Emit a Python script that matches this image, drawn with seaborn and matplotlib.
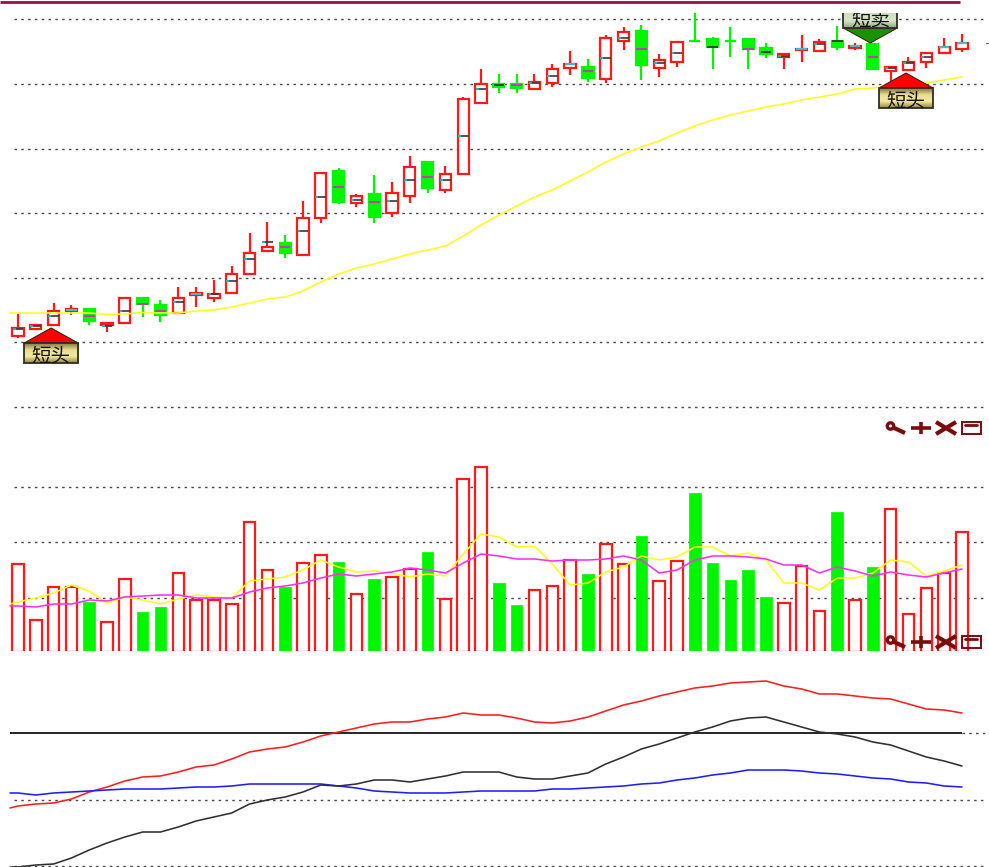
import numpy as np
import matplotlib
matplotlib.use("Agg")
import matplotlib.pyplot as plt
import seaborn as sns
from matplotlib.colors import LinearSegmentedColormap
from matplotlib.patches import Circle, Polygon, Rectangle

# candles, heights above the lowest gridline of the price panel
opens = [71, 78, 82, 96, 98, 82, 84, 109, 102, 94, 112, 109, 114, 133, 156, 164, 152, 189,
         236, 204, 213, 194, 211, 245, 217, 233, 304, 323, 323, 318, 324, 339, 340, 328, 366, 376,
         339, 345, 366.5, 368, 366.5, 368, 359, 350, 357, 356, 366, 359, 363, 336, 337, 345, 354, 358]
closes = [79, 82, 96, 98, 86, 84, 109, 103, 92, 109, 114, 113, 133, 154, 160, 154, 189, 234,
          205, 211, 190, 214, 240, 219, 233, 308, 323, 320, 319, 325, 338, 343, 329, 369, 375, 342,
          347, 365, 366, 360, 366, 358, 353, 353, 358, 365, 360, 361, 338, 340, 345, 354, 360, 364]
highs = [93, 82, 104, 102, 98, 84, 109, 109, 107, 120, 120, 127, 141, 174, 185, 172, 206, 234,
         239, 213, 232, 225, 251, 245, 241, 310, 338, 333, 333, 333, 343, 356, 348, 372, 380, 382,
         353, 366, 394, 370, 380, 368, 364, 353, 372, 368, 381, 364, 363, 340, 350, 354, 369, 373]
lows = [69, 78, 82, 92, 82, 75, 83, 90, 85, 94, 100, 105, 114, 133, 156, 149, 152, 184,
        203, 200, 184, 190, 204, 214, 214, 233, 303, 314, 314, 318, 320, 332, 325, 324, 357, 327,
        330, 340, 366, 338, 350, 338, 349, 338, 345, 355, 357, 357, 337, 324, 337, 339, 354, 355]
mids = [78, 81, 91, 97, 91, 81, 96, 103, 96, 105, 113, 113, 126, 148, 165, 160, 176, 210,
        220, 207, 205, 206, 227, 230, 227, 271, 318, 322, 322, 324, 331, 343, 336, 349, 369, 358,
        344, 354, 366, 360, 366, 358, 355, 351, 358, 363, 366, 361, 350, 339, 344, 350, 360, 364]

# first entry of every line is where it starts, left of candle 0
price_ma = [94, 94, 94, 94, 94, 94, 92.5, 93, 94.5, 94, 94, 96, 97, 100, 104, 108, 110, 116, 125,
            133, 139, 143, 148, 153, 157, 161, 171, 182, 192, 201, 210, 217, 226, 235, 245, 253, 260,
            266, 274, 281, 287, 292, 296, 300, 303, 307, 310, 313, 318, 319, 321, 322, 324, 327, 330]

volumes = [88, 32, 65, 65, 50, 30, 73, 40, 45, 79, 52, 52, 48, 130, 82, 65, 89, 97,
           90, 58, 73, 75, 83, 100, 53, 173, 185, 69, 47, 62, 66, 92, 78, 108, 88, 116,
           71, 91, 159, 89, 72, 82, 55, 49, 86, 41, 140, 52, 85, 143, 38, 64, 79, 120]
vol_ma_fast = [48, 50, 54, 59, 67, 61, 49, 55, 52, 48, 53, 57, 55, 54, 71, 73, 75, 82, 92,
               85, 80, 81, 79, 75, 78, 76, 98, 118, 115, 105, 106, 88, 67, 69, 80, 85, 96,
               92, 95, 105, 105, 96, 99, 92, 69, 69, 62, 74, 74, 79, 92, 90, 76, 81, 87]
vol_ma_slow = [46, 46, 45, 48, 48, 52, 51, 55, 56, 57, 57, 54, 54, 54, 60, 64, 66, 69, 74,
               78, 76, 78, 80, 84, 82, 79, 89, 98, 96, 93, 93, 91, 92, 92, 93, 96, 92,
               79, 82, 92, 96, 96, 95, 93, 87, 87, 79, 85, 81, 76, 80, 77, 75, 79, 83]

# oscillator lines, heights above the solid zero line
osc_red = [-75, -73, -71, -70, -66, -59, -54, -48, -44, -43, -39, -34, -32, -26, -19, -16, -14, -9, -3,
           1, 5, 9, 11, 11, 14, 16, 20, 18, 18, 15, 11, 10, 12, 16, 22, 28, 32, 37,
           41, 45, 47, 50, 51, 52, 47, 44, 39, 39, 37, 35, 34, 29, 24, 23, 20]
osc_blue = [-60, -60, -62, -60, -59, -58, -57, -56, -56, -56, -55, -54, -54, -53, -51, -51, -51, -51, -51,
            -53, -55, -58, -59, -60, -60, -60, -59, -58, -58, -58, -58, -56, -56, -55, -54, -53, -51, -50,
            -47, -45, -42, -40, -37, -37, -37, -38, -40, -41, -43, -45, -46, -49, -50, -53, -54]
osc_black = [-134, -134, -132, -131, -125, -117, -110, -104, -99, -99, -94, -88, -84, -80, -71, -67, -64, -59, -52,
             -53, -51, -47, -47, -49, -46, -43, -39, -39, -39, -44, -46, -46, -43, -40, -31, -24, -16, -11,
             -5, 1, 6, 12, 15, 16, 11, 6, 1, -1, -4, -9, -12, -18, -24, -28, -33]

price_grid = [0, 65, 129, 194, 258, 323, 388]
volume_grid = [54, 110, 165]
osc_grid = [-67, -133]

# mid tick colours that differ from the default of each candle
cyan_mids = [3, 10, 31, 44, 47, 52, 53]
black_green_mids = [27, 39, 42, 46]
no_mids = [38, 40]

# badges: label, candle
long_signals = [("短头", 2), ("短头", 50)]
short_signals = [("短卖", 48)]

W, H = 989, 867
RED = "#ff1a1a"
GREEN = "#00f500"
X0, DX = 18.0, 17.81
GRID = (0, (1.8, 3.1))


def makeAxes(top, bottom, ylo, yhi):
    ax = fig.add_axes([0, 1 - bottom / H, 1, (bottom - top) / H])
    ax.set_xlim(-X0 / DX, (W - X0) / DX)
    ax.set_ylim(ylo, yhi)
    return ax


def drawGrid(ax, levels):
    ax.hlines(levels, -0.22, 54.3, color="#484848", lw=1.0, linestyle=GRID, zorder=1)


def drawLine(ax, xs, ys, color, lw=1.15):
    sns.lineplot(x=xs, y=ys, color=color, lw=lw, ax=ax, estimator=None, legend=False, zorder=4)


def drawBadge(ax, label, i, y, up):
    # sizes in pixels, all panels here are 1 unit = 1 px vertically
    px = 1 / DX
    cx = i - 2.5 * px
    halfw, tri, box = 27 * px, 15, 20
    if up:
        apex, base, boxlo, boxhi = y - 3, y - 3 - tri, y - 3 - tri - box, y - 3 - tri
        tri_color = "#ff0000"
        cmap = LinearSegmentedColormap.from_list("gold", ["#8c7c44", "#e8dc90", "#f2ea9c", "#9c8c4c"])
    else:
        apex, base, boxlo, boxhi = y + 1, y + 1 + tri, y + 1 + tri, y + 1 + tri + box
        tri_color = "#1a9200"
        cmap = LinearSegmentedColormap.from_list("sage", ["#87a07c", "#d0e0c0", "#d8e6c8", "#8fa884"])
    ax.add_patch(Polygon([(cx - halfw, base), (cx, apex), (cx + halfw, base)], closed=True,
                         facecolor=tri_color, edgecolor="#302000", lw=0.7, zorder=6))
    ax.imshow(np.linspace(0, 1, 20).reshape(-1, 1), cmap=cmap, aspect="auto", zorder=6,
              extent=(cx - halfw, cx + halfw, boxlo, boxhi))
    ax.add_patch(Rectangle((cx - halfw, boxlo), 2 * halfw, box, fill=False, edgecolor="#2e2e22",
                           lw=1.3, zorder=7))
    ax.text(cx, (boxlo + boxhi) / 2, label, ha="center", va="center_baseline", fontsize=14,
            color="#111111", clip_on=True, zorder=8)


def drawCandles(ax):
    idx = np.arange(len(opens))
    o, c = np.array(opens, float), np.array(closes, float)
    up = c >= o
    colors = [RED if u else GREEN for u in up]
    drawGrid(ax, price_grid)
    ax.vlines(idx, lows, highs, colors=colors, lw=1.6, zorder=2)
    ax.bar(idx, np.abs(c - o), bottom=np.minimum(o, c), width=0.63,
           color=["white" if u else GREEN for u in up], edgecolor=colors, lw=1.6, zorder=3)
    for i in idx:
        if i in no_mids:
            continue
        lo, hi = i - 0.3, i + 0.3
        if i in cyan_mids:
            ax.hlines(mids[i], lo, hi, color="#18e0e8", lw=1.2, zorder=5)
        elif up[i]:
            ax.hlines(mids[i], lo, hi, color="#383838", lw=1.2, zorder=5)
            ax.hlines(mids[i], lo, lo + 0.16, color="#18c8d0", lw=1.2, zorder=5)
        elif i in black_green_mids:
            ax.hlines(mids[i], lo, hi, color="#303030", lw=1.2, zorder=5)
        else:
            ax.hlines(mids[i], lo, hi, color="#e020c8", lw=1.2, zorder=5)
    drawLine(ax, lineX, price_ma, "#ffff1a")
    for label, i in long_signals:
        drawBadge(ax, label, i, min(lows[i], min(o[i], c[i])), True)
    for label, i in short_signals:
        drawBadge(ax, label, i, highs[i], False)


def drawVolume(ax):
    vol = np.array(volumes)
    up = np.array(closes) >= np.array(opens)
    idx = np.arange(len(vol))
    drawGrid(ax, volume_grid)
    sns.barplot(x=idx[up], y=vol[up], native_scale=True, color="white", edgecolor=RED, lw=1.6,
                width=0.65, saturation=1, errorbar=None, ax=ax, zorder=2)
    sns.barplot(x=idx[~up], y=vol[~up], native_scale=True, color=GREEN, edgecolor=GREEN, lw=0.5,
                width=0.65, saturation=1, errorbar=None, ax=ax, zorder=2)
    drawLine(ax, lineX, vol_ma_fast, "#ffff1a")
    drawLine(ax, lineX, vol_ma_slow, "#ff30f0")


def drawOscillator(ax):
    drawGrid(ax, osc_grid)
    ax.hlines(0, -0.45, 53, color="black", lw=1.2, zorder=2)
    ax.hlines(0, 53, 54.3, color="#484848", lw=1.0, linestyle=GRID, zorder=1)
    drawLine(ax, lineX, osc_red, "#ff1e1e")
    drawLine(ax, lineX, osc_blue, "#1e1eff")
    drawLine(ax, lineX, osc_black, "#303030")


def drawIcons(ax, cy):
    # zoom, add, close and maximise buttons of the panel
    col = "#7a0c0c"
    ax.add_patch(Circle((890.5, cy - 2), 3.2, fill=False, edgecolor=col, lw=2.4))
    ax.plot([892, 905], [cy - 1, cy + 5], color=col, lw=3.0, solid_capstyle="butt")
    ax.plot([911, 931], [cy, cy], color=col, lw=2.6, solid_capstyle="butt")
    ax.plot([921, 921], [cy - 6, cy + 6], color=col, lw=2.6, solid_capstyle="butt")
    ax.plot([936, 956], [cy - 6, cy + 6], color=col, lw=3.0, solid_capstyle="butt")
    ax.plot([936, 956], [cy + 6, cy - 6], color=col, lw=3.0, solid_capstyle="butt")
    ax.add_patch(Rectangle((961.5, cy - 6), 19, 12, fill=False, edgecolor=col, lw=1.4))
    ax.plot([965, 977], [cy - 3.5, cy - 3.5], color=col, lw=2.0)


def drawChrome(ax):
    ax.set_xlim(0, W)
    ax.set_ylim(H, 0)
    ax.plot([0, 960], [1.5, 1.5], color="#9a1046", lw=2.0, solid_capstyle="butt")
    ax.plot([986, 989], [43, 43], color="#707070", lw=0.9)
    drawIcons(ax, 428)
    drawIcons(ax, 642)
    ax.axis("off")


sns.set_style("white")
plt.rcParams["font.family"] = ["Noto Sans CJK SC", "DejaVu Sans"]

lineX = np.r_[-0.45, np.arange(len(opens), dtype=float)]

fig = plt.figure(figsize=(W / 100, H / 100), dpi=100, facecolor="white")

priceAx = makeAxes(13, 412, -5, 394)
drawCandles(priceAx)

volumeAx = makeAxes(440, 651, 1, 212)
drawVolume(volumeAx)

oscAx = makeAxes(655, 867, -134, 78)
drawOscillator(oscAx)

for ax in (priceAx, volumeAx, oscAx):
    ax.set_xlim(-X0 / DX, (W - X0) / DX)
    ax.axis("off")
priceAx.set_ylim(-5, 394)
volumeAx.set_ylim(1, 212)
oscAx.set_ylim(-134, 78)

chromeAx = fig.add_axes([0, 0, 1, 1], zorder=10)
chromeAx.patch.set_alpha(0)
drawChrome(chromeAx)

fig.savefig("out.png", dpi=100)
